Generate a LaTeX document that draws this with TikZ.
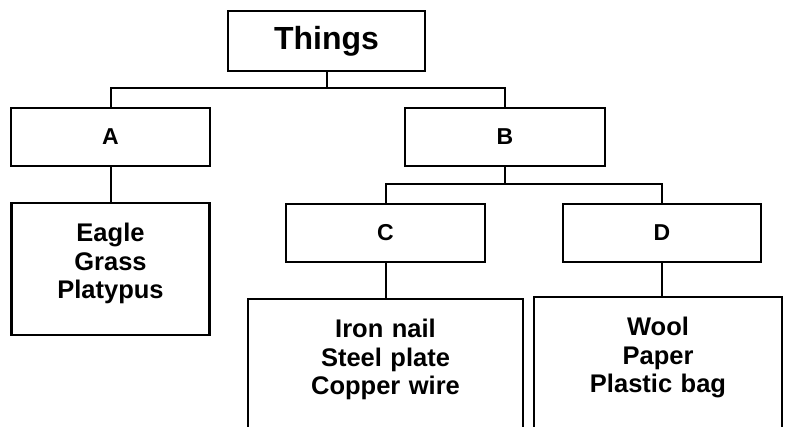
\documentclass[tikz,border=0pt]{standalone}
\usepackage{fontspec}
\setmainfont{Liberation Sans}
\usetikzlibrary{positioning}
\tikzset{
  rootbox/.style = {rectangle, draw=black, line width=2.5pt, outer sep=0pt,
                    minimum width=197pt, minimum height=60pt,
                    font=\fontsize{32}{36}\selectfont\bfseries},
  catbox/.style  = {rectangle, draw=black, line width=2.5pt, outer sep=0pt,
                    minimum width=#1, minimum height=58pt,
                    font=\fontsize{23}{27}\selectfont\bfseries},
  listbox/.style = {rectangle, draw=black, line width=2.5pt, outer sep=0pt,
                    text width=#1, align=center, inner xsep=4pt, inner ysep=0pt,
                    text height=39pt,
                    font=\fontsize{25.5}{28.5}\selectfont\bfseries},
  link/.style    = {line width=2pt},
}

\begin{document}
\begin{tikzpicture}[node distance=37pt]
  \useasboundingbox (0,0) rectangle (785pt,-427pt);
  \clip (0,0) rectangle (785pt,-427pt);

  \node[rootbox] (things) at (326.5pt,-41pt) {Things};

  \node[catbox=199pt, below left=37pt and 18pt of things] (A) {A};
  \node[catbox=200pt, below=37pt of things.south east, anchor=north west,
        xshift=-20pt] (B) {B};

  \node[listbox=190pt, text depth=93pt, below=of A] (animals)
       {Eagle\\ Grass\\ Platypus};

  \node[catbox=199pt, below=38pt of B, xshift=-119.5pt] (C) {C};
  \node[catbox=198pt, below=38pt of B, xshift=157pt] (D) {D};

  \node[listbox=267pt, text depth=130pt, below=of C] (metals)
       {Iron nail\\ Steel plate\\ Copper wire};
  \node[listbox=240pt, text depth=130pt, below=35pt of D, xshift=-4pt] (others)
       {Wool\\ Paper\\ Plastic bag};

  \draw[link] (things.south) -- ++(0,-17pt) coordinate (split1);
  \draw[link] (A.north) |- (split1) -| (B.north);
  \draw[link] (A.south) -- (animals.north);

  \draw[link] (B.south) -- ++(0,-18pt) coordinate (split2);
  \draw[link] (C.north) |- (split2) -| (D.north);
  \draw[link] (C.south) -- (metals.north);
  \draw[link] (D.south) -- (D.south |- others.north);
\end{tikzpicture}
\end{document}
